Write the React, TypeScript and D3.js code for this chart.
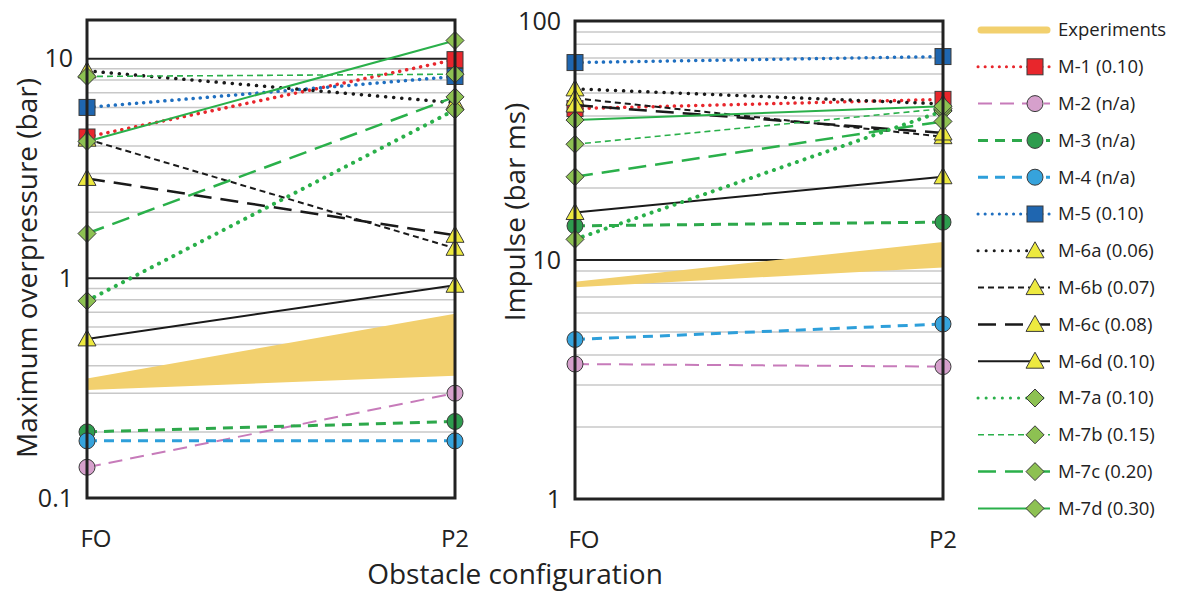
import React from "react";
import * as d3 from "d3";

const categories = ["FO", "P2"];
const seriesNames = ["M-1 (0.10)", "M-2 (n/a)", "M-3 (n/a)", "M-4 (n/a)", "M-5 (0.10)", "M-6a (0.06)", "M-6b (0.07)", "M-6c (0.08)", "M-6d (0.10)", "M-7a (0.10)", "M-7b (0.15)", "M-7c (0.20)", "M-7d (0.30)"];
const overpressureFO = [4.4, 0.138, 0.2, 0.182, 6.0, 8.8, 4.3, 2.85, 0.53, 0.79, 8.3, 1.6, 4.2];
const overpressureP2 = [9.9, 0.3, 0.223, 0.182, 8.3, 6.3, 1.37, 1.57, 0.93, 5.85, 8.5, 6.7, 12.1];
const impulseFO = [43, 3.67, 13.9, 4.65, 67, 52, 47.5, 44.5, 15.8, 12.2, 30.5, 22.3, 38.5];
const impulseP2 = [47, 3.58, 14.4, 5.4, 71, 45, 32.8, 34, 22.3, 42, 43, 38, 44];
const expOverLow = [0.31, 0.36];
const expOverHigh = [0.35, 0.69];
const expImpLow = [7.7, 9.3];
const expImpHigh = [8.1, 11.9];
const overTicks = ["0.1", "1", "10"];
const impTicks = ["1", "10", "100"];

type Style = { color: string; fill: string; width: number; dash: string; cap: string; marker: string };
const styles: Style[] = [
  { color: "#E8262C", fill: "#E8262C", width: 3.5, dash: "0.1 7", cap: "round", marker: "square" },
  { color: "#C77BBA", fill: "#D6A0CC", width: 2, dash: "14 8", cap: "butt", marker: "circle" },
  { color: "#2DA84B", fill: "#2E9C4E", width: 3, dash: "10 7", cap: "butt", marker: "circle" },
  { color: "#2E9FDA", fill: "#36A3DC", width: 3, dash: "10 7", cap: "butt", marker: "circle" },
  { color: "#1F6FC0", fill: "#1F66B0", width: 3.5, dash: "0.1 7", cap: "round", marker: "square" },
  { color: "#1a1a1a", fill: "#EDE93F", width: 3.5, dash: "0.1 8", cap: "round", marker: "triangle" },
  { color: "#1a1a1a", fill: "#EDE93F", width: 2, dash: "6 4", cap: "butt", marker: "triangle" },
  { color: "#1a1a1a", fill: "#EDE93F", width: 2.5, dash: "18 9", cap: "butt", marker: "triangle" },
  { color: "#1a1a1a", fill: "#EDE93F", width: 2, dash: "", cap: "butt", marker: "triangle" },
  { color: "#2AB04A", fill: "#8DC152", width: 4, dash: "0.1 8", cap: "round", marker: "diamond" },
  { color: "#2AB04A", fill: "#8DC152", width: 1.6, dash: "6 4", cap: "butt", marker: "diamond" },
  { color: "#2AB04A", fill: "#8DC152", width: 2.5, dash: "18 9", cap: "butt", marker: "diamond" },
  { color: "#2AB04A", fill: "#8DC152", width: 2, dash: "", cap: "butt", marker: "diamond" },
];
const EXP = "#F2D06E";
const FONT = "'Open Sans', sans-serif";

function Marker({ kind, x, y, fill }: { kind: string; x: number; y: number; fill: string }) {
  const st = { fill, stroke: "#3a3a3a", strokeWidth: 1 };
  if (kind === "square") return <rect x={x - 8} y={y - 8} width={16} height={16} {...st} />;
  if (kind === "circle") return <circle cx={x} cy={y} r={8} {...st} />;
  if (kind === "triangle") return <path d={`M${x},${y - 9}L${x + 9},${y + 7}L${x - 9},${y + 7}Z`} {...st} />;
  return <path d={`M${x},${y - 9}L${x + 9},${y}L${x},${y + 9}L${x - 9},${y}Z`} {...st} />;
}

function Panel({ x0, x1, yTop, yBot, domain, fo, p2, lo, hi, ticks, title, titleY }: any) {
  const x = d3.scalePoint<string>().domain(categories).range([x0, x1]);
  const y = d3.scaleLog().domain(domain).range([yBot, yTop]);
  const decades: number[] = [];
  for (let d = domain[0]; d < domain[1] - 1e-9; d *= 10) decades.push(d);
  const minors: number[] = [];
  decades.forEach((d) => { for (let k = 2; k <= 9; k++) if (d * k < domain[1]) minors.push(d * k); });
  const majors = decades.slice(1).filter((d) => d < domain[1]);
  const band = [
    [x(categories[0])!, y(lo[0])], [x(categories[1])!, y(lo[1])],
    [x(categories[1])!, y(hi[1])], [x(categories[0])!, y(hi[0])],
  ];
  const line = d3.line();
  return (
    <g>
      {minors.map((v) => (
        <line key={"m" + v} x1={x0} x2={x1} y1={y(v)} y2={y(v)} stroke="#C8C8C8" strokeWidth={1.5} />
      ))}
      {majors.map((v) => (
        <line key={"M" + v} x1={x0} x2={x1} y1={y(v)} y2={y(v)} stroke="#222" strokeWidth={2} />
      ))}
      <path d={line(band as any) + "Z"} fill={EXP} />
      {seriesNames.map((n, i) => {
        const s = styles[i];
        const pts: [number, number][] = [[x(categories[0])!, y(fo[i])], [x(categories[1])!, y(p2[i])]];
        return (
          <g key={n}>
            <path d={line(pts)!} fill="none" stroke={s.color} strokeWidth={s.width} strokeDasharray={s.dash || undefined} strokeLinecap={s.cap as any} />
            {pts.map((p, j) => <Marker key={j} kind={s.marker} x={p[0]} y={p[1]} fill={s.fill} />)}
          </g>
        );
      })}
      <rect x={x0} y={yTop} width={x1 - x0} height={yBot - yTop} fill="none" stroke="#222" strokeWidth={3} />
      {ticks.map((t: string) => (
        <text key={t} x={x0 - 14} y={y(+t)} dy="0.35em" textAnchor="end" fontSize={25} fontFamily={FONT} fill="#222">{t}</text>
      ))}
      {categories.map((c) => (
        <text key={c} x={x(c)! + (c === "FO" ? 9 : 0)} y={yBot + 49} textAnchor="middle" fontSize={24} fontFamily={FONT} fill="#222">{c}</text>
      ))}
      <text transform={`translate(${x0 - 60},${titleY}) rotate(-90)`} textAnchor="middle" dy="0.35em" fontSize={28} fontFamily={FONT} fill="#222">{title}</text>
    </g>
  );
}

export default function App() {
  const legendY0 = 30;
  const step = 36.8;
  return (
    <svg width={1177} height={594} style={{ position: "absolute", left: 0, top: 0, background: "#fff" }}>
      <Panel x0={87} x1={455} yTop={20} yBot={498} domain={[0.1, 15]} fo={overpressureFO} p2={overpressureP2} lo={expOverLow} hi={expOverHigh} ticks={overTicks} title="Maximum overpressure (bar)" titleY={268} />
      <Panel x0={575} x1={943} yTop={21} yBot={499} domain={[1, 100]} fo={impulseFO} p2={impulseP2} lo={expImpLow} hi={expImpHigh} ticks={impTicks} title="Impulse (bar ms)" titleY={212} />
      <text x={515} y={584} textAnchor="middle" fontSize={28} fontFamily={FONT} fill="#222">Obstacle configuration</text>
      <g>
        <line x1={981} x2={1047} y1={legendY0} y2={legendY0} stroke={EXP} strokeWidth={7} strokeLinecap="round" />
        <text x={1058} y={legendY0} dy="0.35em" fontSize={18.5} fontFamily={FONT} fill="#222">Experiments</text>
        {seriesNames.map((n, i) => {
          const s = styles[i];
          const yy = legendY0 + step * (i + 1);
          return (
            <g key={n}>
              <line x1={978} x2={1050} y1={yy} y2={yy} stroke={s.color} strokeWidth={Math.min(s.width, 3)} strokeDasharray={s.dash || undefined} strokeLinecap={s.cap as any} />
              <Marker kind={s.marker} x={1035} y={yy} fill={s.fill} />
              <text x={1058} y={yy} dy="0.35em" fontSize={18.5} fontFamily={FONT} fill="#222">{n}</text>
            </g>
          );
        })}
      </g>
    </svg>
  );
}
